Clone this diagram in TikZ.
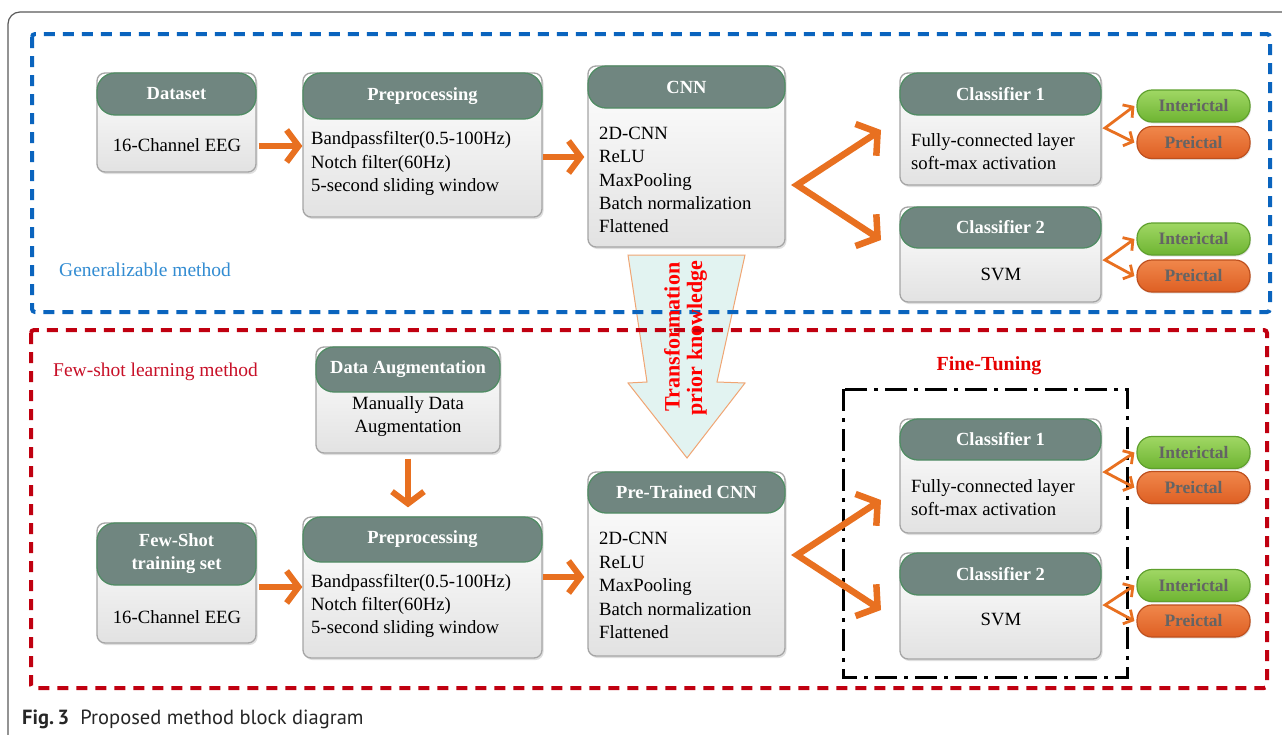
\documentclass[tikz,border=0pt]{standalone}
\usepackage{fontspec}
\setmainfont{Liberation Serif}
\newfontfamily\capfont{PT Sans}
\usetikzlibrary{arrows.meta,shadows,fit,calc}
\definecolor{headfill}{RGB}{112,134,128}
\definecolor{headborder}{RGB}{80,140,100}
\definecolor{boxborder}{RGB}{165,165,165}
\definecolor{boxgray}{RGB}{226,226,226}
\definecolor{orng}{RGB}{232,112,32}
\definecolor{blued}{RGB}{10,100,190}
\definecolor{redd}{RGB}{192,0,16}
\definecolor{gentext}{RGB}{50,140,210}
\definecolor{fewtext}{RGB}{200,16,40}
\definecolor{finetext}{RGB}{230,0,0}
\definecolor{grntop}{RGB}{160,215,100}
\definecolor{grnbot}{RGB}{110,180,50}
\definecolor{grnb}{RGB}{95,160,45}
\definecolor{orgtop}{RGB}{240,135,75}
\definecolor{orgbot}{RGB}{222,95,35}
\definecolor{orgb}{RGB}{190,80,30}
\definecolor{pilltext}{RGB}{100,100,100}
\definecolor{arrfill}{RGB}{226,243,241}
\definecolor{arrborder}{RGB}{240,165,115}
\definecolor{framegray}{RGB}{90,90,90}
\tikzset{
  bodybox/.style={draw=boxborder, line width=1.3pt, rounded corners=8pt, inner sep=0pt,
    top color=white, bottom color=boxgray,
    drop shadow={shadow xshift=1.5pt, shadow yshift=-2pt, opacity=0.25}},
  headbox/.style={draw=headborder, line width=1.3pt, fill=headfill, rounded corners=18pt, inner sep=0pt},
  headtext/.style={text=white, font=\bfseries\fontsize{18.5}{23}\selectfont, align=center, inner sep=0pt},
  btext/.style={font=\fontsize{18.7}{23.4}\selectfont, align=left, inner sep=0pt},
  ctext/.style={font=\fontsize{18.7}{23.4}\selectfont, align=center, inner sep=0pt},
  pillI/.style={draw=grnb, line width=1.2pt, top color=grntop, bottom color=grnbot, rounded corners=15pt,
    minimum width=113pt, minimum height=32pt, inner sep=0pt, text=pilltext,
    font=\bfseries\fontsize{17.5}{20}\selectfont,
    drop shadow={shadow xshift=1pt, shadow yshift=-1.5pt, opacity=0.2}},
  pillP/.style={pillI, draw=orgb, top color=orgtop, bottom color=orgbot},
  bigarr/.style={draw=orng, line width=6pt, line join=miter, -{Straight Barb[length=12pt,width=32pt]}},
  bigv/.style={draw=orng, line width=6.5pt, line join=miter,
    {Straight Barb[length=14pt,width=38pt]}-{Straight Barb[length=14pt,width=38pt]}},
  smallv/.style={draw=orng, line width=2.8pt, line join=miter,
    {Straight Barb[length=7pt,width=16pt]}-{Straight Barb[length=7pt,width=16pt]}},
  trtext/.style={rotate=90, text=red, font=\bfseries\fontsize{22}{24}\selectfont, inner sep=0pt},
}
\newcommand\mkblock[7]{%
  \node[bodybox, fit={(#2,#3) (#4,#5)}] (#1) {};
  \node[headbox, fit={(#2,#3) (#4,#6)}] (#1h) {};
  \node[headtext] (#1t) at (#1h.center) {#7};
}
\begin{document}
\begin{tikzpicture}[x=1pt,y=-1pt]
\useasboundingbox[fill=white] (0,0) rectangle (1282,734);
% outer frame
\draw[framegray, line width=1.2pt, rounded corners=12pt] (8,740) -- (8,12) -- (1290,12);

% transformation arrow (behind dashed boxes)
\draw[draw=arrborder, fill=arrfill, line width=1pt, line join=miter]
  (628,255) -- (745,255) -- (717,382) -- (745,383) -- (687,458) -- (628,383) -- (647,382) -- cycle;

% dashed regions
\draw[blued, line width=4pt, dash pattern=on 11pt off 8pt, rounded corners=3pt] (32,34) rectangle (1270,312);
\draw[redd, line width=4pt, dash pattern=on 11pt off 8pt, rounded corners=3pt] (31,330) rectangle (1267,688);
\draw[black, line width=3pt, dash pattern=on 22pt off 7pt on 4pt off 7pt] (843,389) rectangle (1127,677);

\node[trtext] (tr1) at (672,337) {Transformation};
\node[trtext] (tr2) at (697,338) {prior knowledge};

% labels
\node[anchor=west, text=gentext, font=\fontsize{19.5}{22}\selectfont, inner sep=0pt] (gen) at (59,270) {Generalizable method};
\node[anchor=west, text=fewtext, font=\fontsize{19.5}{22}\selectfont, inner sep=0pt] (few) at (53,372) {Few-shot learning method};
\node[text=finetext, font=\bfseries\fontsize{20}{22}\selectfont, inner sep=0pt] (fine) at (989,366) {Fine-Tuning};

% ---- top row ----
\mkblock{ds}{97}{73}{256}{172}{115}{Dataset}
\node[ctext] (dsx) at (177,145) {16-Channel EEG};
\mkblock{pp}{303}{73}{542}{217}{119}{Preprocessing}
\node[btext, anchor=west] (ppx) at (311,163.5) {Bandpassfilter(0.5-100Hz)\\Notch filter(60Hz)\\5-second sliding window};
\mkblock{cnn}{588}{66}{785}{247}{108}{CNN}
\node[btext, anchor=west] (cnnx) at (599,180) {2D-CNN\\ReLU\\MaxPooling\\Batch normalization\\Flattened};
\mkblock{ca}{900}{73}{1101}{185}{115}{Classifier 1}
\node[btext, anchor=west] (cax) at (911,151.5) {Fully-connected layer\\soft-max activation};
\mkblock{cb}{900}{207}{1101}{302}{248}{Classifier 2}
\node[ctext] (cbx) at (1001,274) {SVM};

\node[pillI] (ia) at (1193.5,106) {Interictal};
\node[pillP] (pa) at (1193.5,142.5) {Preictal};
\node[pillI] (ib) at (1193.5,239) {Interictal};
\node[pillP] (pb) at (1193.5,276) {Preictal};

% ---- bottom row ----
\mkblock{da}{316}{347}{500}{453}{392}{Data Augmentation}
\node[ctext] (dax) at (408,416.5) {Manually Data\\Augmentation};
\mkblock{fs}{97}{523}{256}{643}{585}{Few-Shot\\training set}
\node[ctext] (fsx) at (177,617) {16-Channel EEG};
\mkblock{pq}{303}{517}{542}{658}{562}{Preprocessing}
\node[btext, anchor=west] (pqx) at (311,606) {Bandpassfilter(0.5-100Hz)\\Notch filter(60Hz)\\5-second sliding window};
\mkblock{pt}{588}{472}{785}{656}{513}{Pre-Trained CNN}
\node[btext, anchor=west] (ptx) at (599,585.5) {2D-CNN\\ReLU\\MaxPooling\\Batch normalization\\Flattened};
\mkblock{cc}{900}{419}{1101}{533}{460}{Classifier 1}
\node[btext, anchor=west] (ccx) at (911,497.5) {Fully-connected layer\\soft-max activation};
\mkblock{cd}{900}{553}{1101}{659}{595}{Classifier 2}
\node[ctext] (cdx) at (1001,619) {SVM};

\node[pillI] (ic) at (1193.5,452.5) {Interictal};
\node[pillP] (pc) at (1193.5,487.5) {Preictal};
\node[pillI] (id) at (1193.5,585.5) {Interictal};
\node[pillP] (pd) at (1193.5,621) {Preictal};

% ---- connectors ----
\draw[bigarr] (ds.east |- 0,146) ++(2,0) -- (pp.west |- 0,146);
\draw[bigarr] (pp.east |- 0,157) -- ([xshift=-3pt]cnn.west |- 0,157);
\draw[bigarr] (fs.east |- 0,587) ++(2,0) -- (pq.west |- 0,587);
\draw[bigarr] (pq.east |- 0,577) -- ([xshift=-3pt]pt.west |- 0,577);
\draw[bigarr] ([yshift=-5pt]da.south) -- ([yshift=9pt]da.south |- pq.north);

\coordinate (va1) at (881,130);
\coordinate (va0) at (797,185);
\coordinate (va2) at (881,240);
\draw[bigv] (va1) -- (va0) -- (va2);
\coordinate (vb1) at (881,500);
\coordinate (vb0) at (797,555);
\coordinate (vb2) at (881,610);
\draw[bigv] (vb1) -- (vb0) -- (vb2);

\coordinate (sa) at (1105,128);
\draw[smallv] ([xshift=-2pt]ia.west) -- (sa) -- ([xshift=-2pt]pa.west);
\coordinate (sb) at (1105,260);
\draw[smallv] ([xshift=-2pt]ib.west) -- (sb) -- ([xshift=-2pt]pb.west);
\coordinate (sc) at (1105,472);
\draw[smallv] ([xshift=-2pt]ic.west) -- (sc) -- ([xshift=-2pt]pc.west);
\coordinate (sd) at (1105,605);
\draw[smallv] ([xshift=-2pt]id.west) -- (sd) -- ([xshift=-2pt]pd.west);

% caption
\node[anchor=base west, font=\capfont\fontsize{20.5}{24}\selectfont, inner sep=0pt, text=black!85] (cap) at (22,724)
  {\textbf{Fig.\,3}\hspace{0.55em}Proposed method block diagram};
\end{tikzpicture}
\end{document}
